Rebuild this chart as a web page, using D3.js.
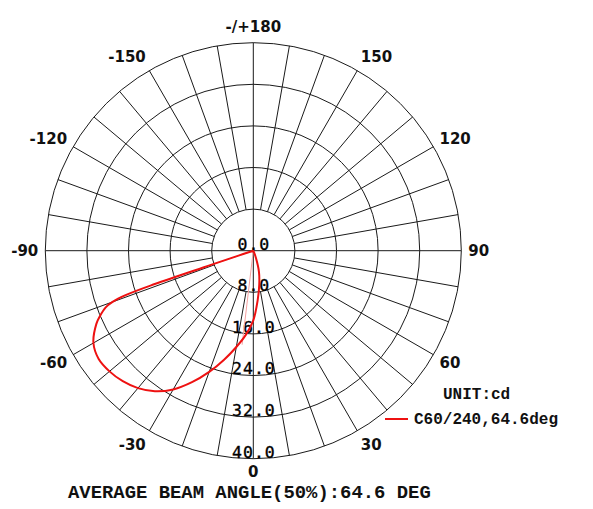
<!DOCTYPE html>
<html><head><meta charset="utf-8">
<script src="https://cdn.jsdelivr.net/npm/d3@7"></script>
<style>body{margin:0;background:#fff}svg{display:block}</style>
</head><body>
<svg id="chart" width="593" height="509"></svg>
<script>
// ---- data ----
const ringValues = [8, 16, 24, 32, 40];
const ringLabels = ["0.0", "8.0", "16.0", "24.0", "32.0", "40.0"];
const ringLabelValues = [0, 8, 16, 24, 32, 40];
const angleTicks = [0, 30, 60, 90, 120, 150, 180, -150, -120, -90, -60, -30];
const angleTickLabels = ["0", "30", "60", "90", "120", "150", "-/+180", "-150", "-120", "-90", "-60", "-30"];
// C60/240 curve: angle (deg, 0 = down, + = right) and intensity (cd)
const curveAngles = [28, 25, 20, 15, 10, 5, 0, -5, -10, -15, -20, -25, -30, -35, -40, -45, -50, -55, -60, -65, -67, -69, -70, -70.8, -71.3, -71.5, -71.7, -72];
const curveValues = [0, 0.3, 1.5, 4.2, 6.6, 9.6, 13.4, 16.2, 18.8, 21.7, 24.8, 27.9, 30.8, 33.0, 34.5, 35.5, 36.1, 36.3, 35.5, 33.3, 32.0, 30.4, 28.8, 26.0, 20.0, 10.0, 3.0, 0];
const beamEdges = [-71.4, -6.8];
const halfMax = 18.2;
const seriesName = "C60/240,64.6deg";
const unitText = "UNIT:cd";
const footerText = "AVERAGE BEAM ANGLE(50%):64.6 DEG";

// ---- layout ----
const cx = 253.3, cy = 250.7, R = 208;
const svg = d3.select("#chart");
const r = d3.scaleLinear().domain([0, 40]).range([0, R]);
const toA = deg => Math.PI - deg * Math.PI / 180; // d3 radial angle
const rad = d => d * Math.PI / 180;
const g = svg.append("g").attr("transform", `translate(${cx},${cy})`);

// rings
g.selectAll("circle.ring").data(ringValues).join("circle")
  .attr("r", d => r(d)).attr("fill", "none").attr("stroke", "#1a1a1a").attr("stroke-width", 1);

// spokes every 10 degrees
const spokes = d3.range(-170, 181, 10);
g.selectAll("line.spoke").data(spokes).join("line")
  .attr("x1", d => (d % 90 === 0 ? 0 : r(8)) * Math.sin(rad(d)))
  .attr("y1", d => (d % 90 === 0 ? 0 : r(8)) * Math.cos(rad(d)))
  .attr("x2", d => r(40) * Math.sin(rad(d)))
  .attr("y2", d => r(40) * Math.cos(rad(d)))
  .attr("stroke", "#1a1a1a").attr("stroke-width", 1);

// ring labels
g.selectAll("text.rl").data(ringLabelValues).join("text")
  .attr("x", 0.6).attr("y", d => r(d) - 1)
  .attr("text-anchor", "middle")
  .attr("font-family", "DejaVu Sans Mono").attr("font-size", 16.5)
  .attr("letter-spacing", 1)
  .attr("stroke", "#000").attr("stroke-width", 0.35)
  .attr("fill", "#000")
  .text((d, i) => ringLabels[i]);

// angle labels: left side end-anchored, right side start-anchored
const Rx = 215, Ry = 224;
g.selectAll("text.al").data(angleTicks).join("text")
  .attr("x", d => {
    const s = Math.sin(rad(d));
    return Math.abs(s) < 1e-6 ? 0 : Math.sign(s) * Rx * Math.abs(s);
  })
  .attr("y", d => {
    const c = Math.cos(rad(d));
    return Ry * c - (c > 0.99 ? 2.2 : 0);
  })
  .attr("text-anchor", d => {
    const s = Math.sin(rad(d));
    return Math.abs(s) < 1e-6 ? "middle" : (s > 0 ? "start" : "end");
  })
  .attr("dominant-baseline", "central")
  .attr("font-family", "DejaVu Sans").attr("font-weight", "bold").attr("font-size", 15)
  .attr("fill", "#111")
  .text((d, i) => angleTickLabels[i]);

// beam edge lines (pink)
g.selectAll("line.beam").data(beamEdges).join("line")
  .attr("x1", 0).attr("y1", 0)
  .attr("x2", d => r(halfMax) * Math.sin(rad(d)))
  .attr("y2", d => r(halfMax) * Math.cos(rad(d)))
  .attr("stroke", "#f4a0a0").attr("stroke-width", 1);

// curve
const pts = curveAngles.map((a, i) => [toA(a), r(curveValues[i])]);
const line = d3.lineRadial().curve(d3.curveCatmullRom.alpha(0.5));
g.append("path").attr("d", line(pts)).attr("fill", "none")
  .attr("stroke", "#ee1111").attr("stroke-width", 2);

// legend
svg.append("text").attr("x", 443).attr("y", 399)
  .attr("font-family", "Liberation Mono").attr("font-weight", "bold").attr("font-size", 16)
  .attr("fill", "#111").text(unitText);
svg.append("line").attr("x1", 385).attr("x2", 408).attr("y1", 419).attr("y2", 419)
  .attr("stroke", "#ee1111").attr("stroke-width", 2);
svg.append("text").attr("x", 414).attr("y", 424)
  .attr("font-family", "Liberation Mono").attr("font-weight", "bold").attr("font-size", 16)
  .attr("fill", "#111").text(seriesName);

// footer
svg.append("text").attr("x", 68).attr("y", 497.5)
  .attr("font-family", "Liberation Mono").attr("font-weight", "bold").attr("font-size", 18.9)
  .attr("fill", "#111").text(footerText);
</script>
</body></html>
